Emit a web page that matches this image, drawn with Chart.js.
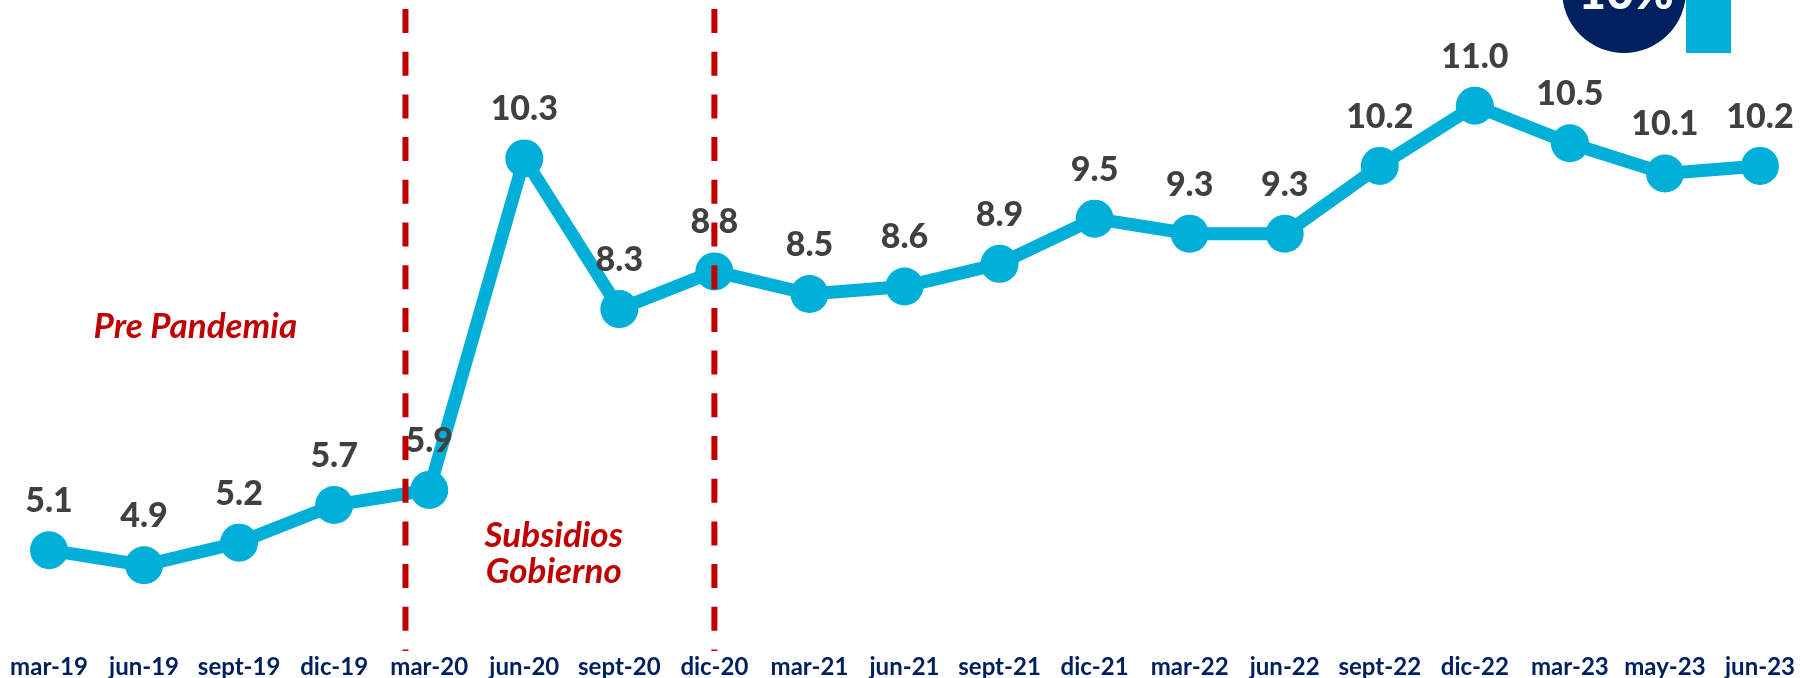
<!DOCTYPE html>
<html>
<head>
<meta charset="utf-8">
<script src="https://cdn.jsdelivr.net/npm/chart.js@4.4.0/dist/chart.umd.min.js"></script>
<style>
  html, body { margin: 0; padding: 0; background: #fff; }
  #wrap { width: 1800px; height: 678px; position: relative; }
</style>
</head>
<body>
<div id="wrap"><canvas id="chart"></canvas></div>
<script>
// datos del grafico
const periods = ["mar-19", "jun-19", "sept-19", "dic-19", "mar-20", "jun-20", "sept-20", "dic-20",
  "mar-21", "jun-21", "sept-21", "dic-21", "mar-22", "jun-22", "sept-22", "dic-22",
  "mar-23", "may-23", "jun-23"];
const values = [5.1, 4.9, 5.2, 5.7, 5.9, 10.3, 8.3, 8.8, 8.5, 8.6, 8.9, 9.5, 9.3, 9.3, 10.2, 11.0, 10.5, 10.1, 10.2];
const dividers = [3.75, 7]; // posiciones (indice) de las lineas punteadas
const badgeText = "10%";

const blue = "#00afd7";
const red = "#c00000";

// textos rojos, ubicados en coordenadas de los ejes
const notes = [
  { text: "Pre Pandemia", x: 1.54, y: 8.07 },
  { text: "Subsidios", x: 5.31, y: 5.29 },
  { text: "Gobierno", x: 5.31, y: 4.82 }
];

const overlay = {
  id: "overlay",
  afterDatasetsDraw(chart) {
    const ctx = chart.ctx;
    const xs = chart.scales.x;
    const ys = chart.scales.y;
    const meta = chart.getDatasetMeta(0);
    ctx.save();

    // etiquetas de valores
    ctx.font = "900 34px Lato";
    ctx.fillStyle = "#404040";
    ctx.textAlign = "center";
    ctx.textBaseline = "alphabetic";
    meta.data.forEach((pt, i) => {
      ctx.fillText(values[i].toFixed(1), pt.x, pt.y - 38);
    });

    // notas
    ctx.font = "italic bold 35px Lato";
    ctx.fillStyle = red;
    ctx.textBaseline = "middle";
    notes.forEach(n => {
      ctx.fillText(n.text, xs.getPixelForValue(n.x), ys.getPixelForValue(n.y));
    });

    // lineas punteadas
    ctx.strokeStyle = red;
    ctx.lineWidth = 6;
    ctx.setLineDash([24, 18.7]);
    dividers.forEach(d => {
      const px = xs.getPixelForValue(d);
      ctx.beginPath();
      ctx.moveTo(px, 9);
      ctx.lineTo(px, 651);
      ctx.stroke();
    });
    ctx.setLineDash([]);

    // insignia arriba a la derecha
    ctx.fillStyle = "#002060";
    ctx.beginPath();
    ctx.arc(1624, -9, 62, 0, Math.PI * 2);
    ctx.fill();
    ctx.fillStyle = blue;
    ctx.fillRect(1686, 0, 45, 53);
    ctx.fillStyle = "#fff";
    ctx.font = "900 48px Lato";
    ctx.textBaseline = "alphabetic";
    ctx.fillText(badgeText, 1626, 9);

    ctx.restore();
  }
};

new Chart(document.getElementById("chart"), {
  type: "line",
  data: {
    labels: periods,
    datasets: [{
      data: values,
      borderColor: blue,
      backgroundColor: blue,
      borderWidth: 13,
      pointRadius: 19,
      pointHoverRadius: 19,
      pointBackgroundColor: blue,
      pointBorderWidth: 0,
      tension: 0,
      clip: false
    }]
  },
  options: {
    responsive: true,
    maintainAspectRatio: false,
    animation: false,
    layout: { padding: { left: 49, right: 40, top: 0, bottom: 0 } },
    plugins: {
      legend: { display: false },
      tooltip: { enabled: false }
    },
    scales: {
      x: {
        offset: false,
        grid: { display: false, drawTicks: false },
        border: { display: false },
        afterFit(scale) {
          scale.paddingLeft = 0;
          scale.paddingRight = 0;
          scale.height = 60;
        },
        ticks: {
          autoSkip: false,
          maxRotation: 0,
          padding: 35,
          color: "#002060",
          font: { family: "Lato", weight: "bold", size: 24 }
        }
      },
      y: {
        display: false,
        min: 4.2,
        max: 12.15
      }
    }
  },
  plugins: [overlay]
});
</script>
</body>
</html>
